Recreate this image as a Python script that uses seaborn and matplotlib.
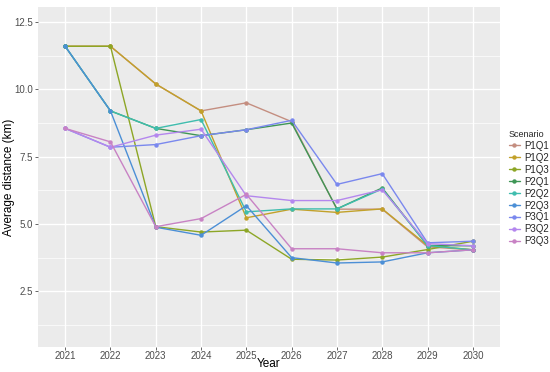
import matplotlib
matplotlib.use('Agg')
import matplotlib.pyplot as plt
import seaborn as sns
import pandas as pd

years = [2021, 2022, 2023, 2024, 2025, 2026, 2027, 2028, 2029, 2030]
scenarios = ['P1Q1', 'P1Q2', 'P1Q3', 'P2Q1', 'P2Q2', 'P2Q3', 'P3Q1', 'P3Q2', 'P3Q3']

p1q1 = [11.6, 11.6, 10.2, 9.2, 9.5, 8.8, 5.55, 5.55, 4.15, 4.04]
p1q2 = [11.6, 11.6, 10.2, 9.2, 5.23, 5.55, 5.43, 5.56, 4.2, 4.04]
p1q3 = [11.6, 11.6, 4.9, 4.7, 4.77, 3.69, 3.66, 3.77, 4.05, 4.36]
p2q1 = [11.6, 9.2, 8.55, 8.28, 8.5, 8.75, 5.56, 6.34, 4.2, 4.19]
p2q2 = [11.6, 9.2, 8.55, 8.88, 5.45, 5.56, 5.56, 6.3, 4.2, 4.04]
p2q3 = [11.6, 9.2, 4.88, 4.58, 5.68, 3.75, 3.55, 3.59, 3.93, 4.04]
p3q1 = [8.55, 7.85, 7.95, 8.28, 8.5, 8.85, 6.47, 6.87, 4.3, 4.36]
p3q2 = [8.55, 7.85, 8.3, 8.52, 6.05, 5.87, 5.87, 6.27, 4.27, 4.19]
p3q3 = [8.55, 8.05, 4.9, 5.2, 6.1, 4.08, 4.08, 3.93, 3.93, 4.04]

values = [p1q1, p1q2, p1q3, p2q1, p2q2, p2q3, p3q1, p3q2, p3q3]
colors = ['#C48E80', '#C2A12A', '#8DA626', '#3E9656', '#3FBDAE', '#4C8FD6',
          '#7A88EE', '#B487EE', '#C882C4']

df = pd.DataFrame({
    'Year': years * len(scenarios),
    'Distance': [v for vals in values for v in vals],
    'Scenario': [s for s in scenarios for _ in years],
})

sns.set_theme(style='darkgrid')
plt.rcParams['font.family'] = ['Liberation Sans', 'DejaVu Sans']

fig = plt.figure(figsize=(5.5, 3.72), dpi=100)
ax = fig.add_axes([38 / 550, 1 - 347 / 372, 462 / 550, 340 / 372])
ax.set_facecolor('#EBEBEB')

sns.lineplot(data=df, x='Year', y='Distance', hue='Scenario', palette=colors,
             marker='o', markersize=3.2, markeredgewidth=0, linewidth=1.0,
             ax=ax, legend=True)

ax.set_xlim(2020.4, 2030.6)
ax.set_ylim(0.43, 13.06)
ax.set_xticks(years)
ax.set_xticklabels([str(y) for y in years])
ax.set_yticks([2.5, 5.0, 7.5, 10.0, 12.5])
ax.set_yticklabels(['2.5', '5.0', '7.5', '10.0', '12.5'])
ax.set_yticks([1.25, 3.75, 6.25, 8.75, 11.25], minor=True)
ax.grid(True, which='major', color='white', linewidth=1.0)
ax.grid(True, which='minor', axis='y', color='white', linewidth=0.5)
ax.tick_params(axis='both', which='major', labelsize=7, colors='#4D4D4D',
               length=2, width=0.6, pad=1.5, left=True, bottom=True)
ax.tick_params(axis='x', which='major', pad=0.8)
ax.tick_params(axis='both', which='minor', length=0)
for sp in ax.spines.values():
    sp.set_visible(False)

ax.set_xlabel('Year', fontsize=8.5, color='black')
ax.set_ylabel('Average distance (km)', fontsize=8.5, color='black')
ax.xaxis.set_label_coords(0.5, -0.033)
ax.yaxis.set_label_coords(-0.05, 0.5)

leg = ax.legend(title='Scenario', loc='upper left', bbox_to_anchor=(1.01, 0.65),
                frameon=False, fontsize=7, title_fontsize=6.5,
                handlelength=1.2, handletextpad=0.4, labelspacing=0.2,
                borderaxespad=0)
leg._legend_box.align = 'left'

fig.savefig('out.png', dpi=100)
plt.close(fig)
